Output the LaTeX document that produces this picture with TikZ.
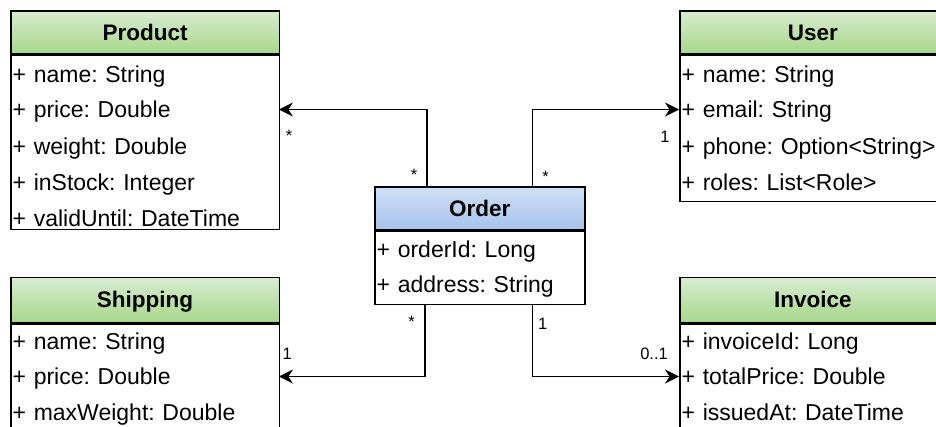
\documentclass[tikz,border=0pt]{standalone}
\usepackage{fontspec}
\setmainfont{Liberation Sans}
\usetikzlibrary{arrows.meta}
\frenchspacing
\definecolor{greenTop}{HTML}{D8ECD0}
\definecolor{greenBot}{HTML}{A6D78B}
\definecolor{blueTop}{HTML}{D0DFF4}
\definecolor{blueBot}{HTML}{A6C3EA}
\begin{document}
\begin{tikzpicture}[x=1pt,y=-1pt,
  box/.style={draw, line width=1.7pt, rectangle, inner sep=0pt, anchor=north west},
  hdrtext/.style={font=\fontsize{22.5}{26}\selectfont\bfseries, text height=16.2pt, text depth=0pt},
  greenhdr/.style={box, hdrtext, top color=greenTop, bottom color=greenBot},
  bluehdr/.style={box, hdrtext, top color=blueTop, bottom color=blueBot},
  bodybox/.style={box, fill=white},
  field/.style={anchor=west, inner xsep=2.5pt, inner ysep=0pt, text width=#1, align=left,
    minimum height=30pt, text height=16.5pt, text depth=0pt, font=\fontsize{23}{27}\selectfont},
  mult/.style={anchor=base, inner sep=0pt, font=\fontsize{16.5}{19}\selectfont},
  assoc/.style={line width=1.7pt, -{Stealth[length=14pt,width=14pt,inset=4.5pt]}}
]
\useasboundingbox (0,0) rectangle (936,426);
\clip (0,0) rectangle (936,426);

% Product
\node[greenhdr, minimum width=268.5pt, minimum height=43pt] (product) at (10,10) {Product};
\node[bodybox, minimum width=268.5pt, minimum height=174pt] (productbody) at (product.south west) {};
\node[field=263.5pt] (pname)  at (10,74)    {+ name: String};
\node[field=263.5pt] (pprice) at (10,109.5) {+ price: Double};
\node[field=263.5pt] (pweight) at (10,146)  {+ weight: Double};
\node[field=263.5pt] (pstock) at (10,182)   {+ inStock: Integer};
\node[field=263.5pt] (pvalid) at (10,218)   {+ validUntil: DateTime};

% User
\node[greenhdr, minimum width=266pt, minimum height=43pt] (user) at (679,10) {User};
\node[bodybox, minimum width=266pt, minimum height=146pt] (userbody) at (user.south west) {};
\node[field=261pt] (uname)  at (679,74)    {+ name: String};
\node[field=261pt] (uemail) at (679,109.5) {+ email: String};
\node[field=261pt] (uphone) at (679,146)   {+ phone: Option<String>};
\node[field=261pt] (uroles) at (679,182)   {+ roles: List<Role>};

% Order
\node[bluehdr, minimum width=210pt, minimum height=43pt] (order) at (374,186) {Order};
\node[bodybox, minimum width=210pt, minimum height=73pt] (orderbody) at (order.south west) {};
\node[field=205pt] (oid)   at (374,249) {+ orderId: Long};
\node[field=205pt] (oaddr) at (374,284) {+ address: String};

% Shipping
\node[greenhdr, minimum width=268.5pt, minimum height=45pt] (shipping) at (10,276.5) {Shipping};
\node[bodybox, minimum width=268.5pt, minimum height=120pt] (shippingbody) at (shipping.south west) {};
\node[field=263.5pt] (sname)   at (10,341.5) {+ name: String};
\node[field=263.5pt] (sprice)  at (10,376.5) {+ price: Double};
\node[field=263.5pt] (sweight) at (10,412.5) {+ maxWeight: Double};

% Invoice
\node[greenhdr, minimum width=266pt, minimum height=45pt] (invoice) at (679,276.5) {Invoice};
\node[bodybox, minimum width=266pt, minimum height=120pt] (invoicebody) at (invoice.south west) {};
\node[field=261pt] (iid)    at (679,341.5) {+ invoiceId: Long};
\node[field=261pt] (itotal) at (679,376.5) {+ totalPrice: Double};
\node[field=261pt] (idate)  at (679,412.5) {+ issuedAt: DateTime};

% Associations
\draw[assoc] ([xshift=53.3pt]order.north west) |- (pprice.east);
\draw[assoc] ([xshift=-53.3pt]order.north east) |- (uemail.west);
\draw[assoc] ([xshift=51.3pt]orderbody.south west) |- (sprice.east);
\draw[assoc] ([xshift=-53.3pt]orderbody.south east) |- (itotal.west);

% Multiplicities
\node[mult] (m1) at (289,141.4)   {*};
\node[mult] (m2) at (414,180.1)   {*};
\node[mult] (m3) at (545.7,182.1) {*};
\node[mult] (m4) at (665,142.9)   {1};
\node[mult] (m5) at (411.7,327.1) {*};
\node[mult] (m6) at (287.3,359.9) {1};
\node[mult] (m7) at (542.7,329.9) {1};
\node[mult] (m8) at (654,359.9)   {0..1};
\end{tikzpicture}
\end{document}
